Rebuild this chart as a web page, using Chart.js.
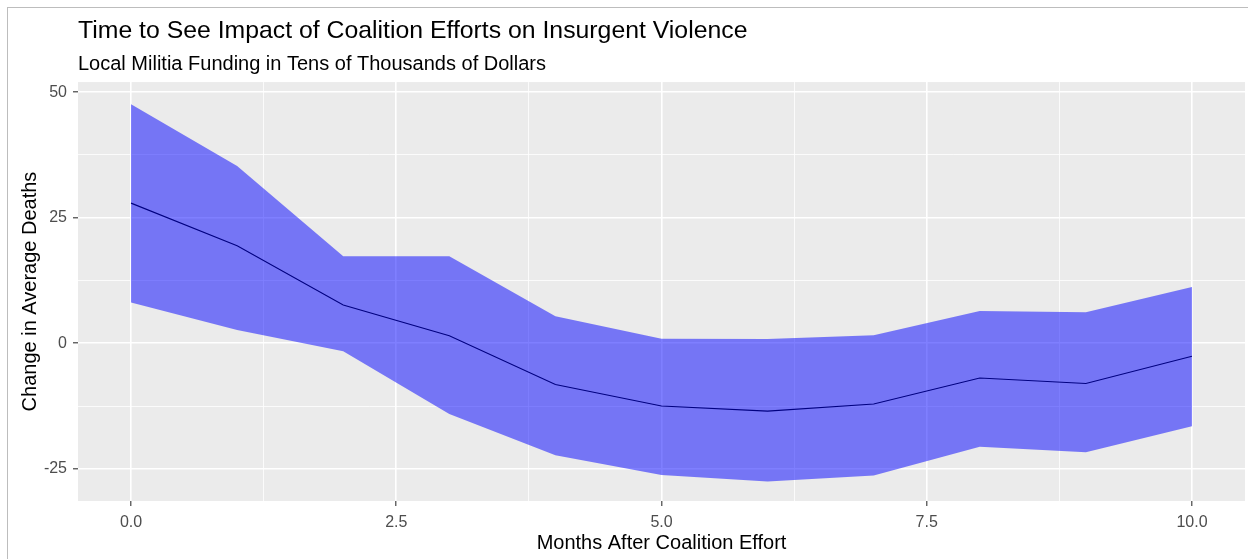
<!DOCTYPE html>
<html>
<head>
<meta charset="utf-8">
<script src="https://cdn.jsdelivr.net/npm/chart.js@4/dist/chart.umd.min.js"></script>
<style>
  html, body { margin: 0; padding: 0; background: #ffffff; }
  #wrap { position: relative; width: 1248px; height: 559px; overflow: hidden; }
  #frame { position: absolute; left: 7px; top: 7px; width: 1260px; height: 600px;
           border-left: 1px solid #bdbdbd; border-top: 1px solid #bdbdbd; box-sizing: border-box; }
  canvas { position: absolute; left: 0; top: 0; }
</style>
</head>
<body>
<div id="wrap">
  <div id="frame"></div>
  <canvas id="chart" width="1248" height="559"></canvas>
</div>
<script>
// Months after the coalition effort
const months = [0, 1, 2, 3, 4, 5, 6, 7, 8, 9, 10];
// Estimated change in average deaths and its confidence band
const estimate = [27.9, 19.4, 7.6, 1.5, -8.2, -12.5, -13.5, -12.1, -6.9, -8.0, -2.6];
const upperBound = [47.6, 35.3, 17.3, 17.3, 5.4, 0.9, 0.85, 1.6, 6.4, 6.2, 11.2];
const lowerBound = [8.1, 2.65, -1.6, -14.1, -22.3, -26.2, -27.5, -26.3, -20.6, -21.7, -16.5];

// Axis breaks: labelled majors plus unlabelled minors
const xMajor = [0, 2.5, 5, 7.5, 10];
const xMinor = [1.25, 3.75, 6.25, 8.75];
const yMajor = [-25, 0, 25, 50];
const yMinor = [-12.5, 12.5, 37.5];

const toPoints = vals => months.map((m, i) => ({ x: m, y: vals[i] }));
const isMajor = (list, v) => list.some(t => Math.abs(t - v) < 1e-9);

const panelBackground = {
  id: 'panelBackground',
  beforeDraw(chart) {
    const a = chart.chartArea;
    const c = chart.ctx;
    c.save();
    c.fillStyle = '#ebebeb';
    c.fillRect(a.left, a.top, a.right - a.left, a.bottom - a.top);
    c.restore();
  }
};

function gridFor(majors) {
  return {
    drawTicks: true,
    tickLength: 5,
    tickWidth: 1.1,
    tickColor: ctx => isMajor(majors, ctx.tick.value) ? '#333333' : 'rgba(0,0,0,0)',
    color: '#ffffff',
    lineWidth: ctx => isMajor(majors, ctx.tick.value) ? 1.6 : 0.8
  };
}

const FONT = "'Liberation Sans', Arial, sans-serif";

new Chart(document.getElementById('chart'), {
  type: 'line',
  data: {
    datasets: [
      {
        label: 'Upper',
        data: toPoints(upperBound),
        borderColor: 'rgba(0,0,0,0)',
        borderWidth: 0,
        pointRadius: 0,
        backgroundColor: 'rgba(0,0,255,0.5)',
        fill: '+1',
        tension: 0,
        order: 1
      },
      {
        label: 'Lower',
        data: toPoints(lowerBound),
        borderColor: 'rgba(0,0,0,0)',
        borderWidth: 0,
        pointRadius: 0,
        fill: false,
        tension: 0,
        order: 1
      },
      {
        label: 'Estimate',
        data: toPoints(estimate),
        borderColor: '#000000',
        borderWidth: 1.1,
        pointRadius: 0,
        fill: false,
        tension: 0,
        order: 2
      }
    ]
  },
  options: {
    responsive: false,
    animation: false,
    layout: { padding: { top: 8, left: 8, right: 3, bottom: 0 } },
    plugins: {
      legend: { display: false },
      tooltip: { enabled: false },
      title: {
        display: true,
        text: 'Time to See Impact of Coalition Efforts on Insurgent Violence',
        align: 'start',
        fullSize: false,
        color: '#000000',
        font: { family: FONT, size: 24.8, weight: 'normal', lineHeight: 1.2 },
        padding: { top: 8.5, bottom: 3 }
      },
      subtitle: {
        display: true,
        text: 'Local Militia Funding in Tens of Thousands of Dollars',
        align: 'start',
        fullSize: false,
        color: '#000000',
        font: { family: FONT, size: 20, weight: 'normal', lineHeight: 1.2 },
        padding: { top: 3.6, bottom: 5.2 }
      }
    },
    scales: {
      x: {
        type: 'linear',
        min: -0.5,
        max: 10.5,
        afterBuildTicks: s => { s.ticks = xMajor.concat(xMinor).sort((a, b) => a - b).map(v => ({ value: v })); },
        afterFit: s => { s.height = 58; },
        border: { display: false },
        grid: gridFor(xMajor),
        ticks: {
          autoSkip: false,
          maxRotation: 0,
          padding: 7,
          color: '#4d4d4d',
          font: { family: FONT, size: 16 },
          callback: v => isMajor(xMajor, v) ? v.toFixed(1) : ''
        },
        title: {
          display: true,
          text: 'Months After Coalition Effort',
          color: '#000000',
          font: { family: FONT, size: 20 },
          padding: { top: 0, bottom: 4 }
        }
      },
      y: {
        type: 'linear',
        min: -31.4,
        max: 52,
        afterBuildTicks: s => { s.ticks = yMajor.concat(yMinor).sort((a, b) => a - b).map(v => ({ value: v })); },
        afterFit: s => { s.width = 70; },
        border: { display: false },
        grid: gridFor(yMajor),
        ticks: {
          autoSkip: false,
          padding: 6,
          color: '#4d4d4d',
          font: { family: FONT, size: 16 },
          callback: v => isMajor(yMajor, v) ? String(v) : ''
        },
        title: {
          display: true,
          text: 'Change in Average Deaths',
          color: '#000000',
          font: { family: FONT, size: 20 },
          padding: { top: 10, bottom: 4 }
        }
      }
    }
  },
  plugins: [panelBackground]
});
</script>
</body>
</html>
